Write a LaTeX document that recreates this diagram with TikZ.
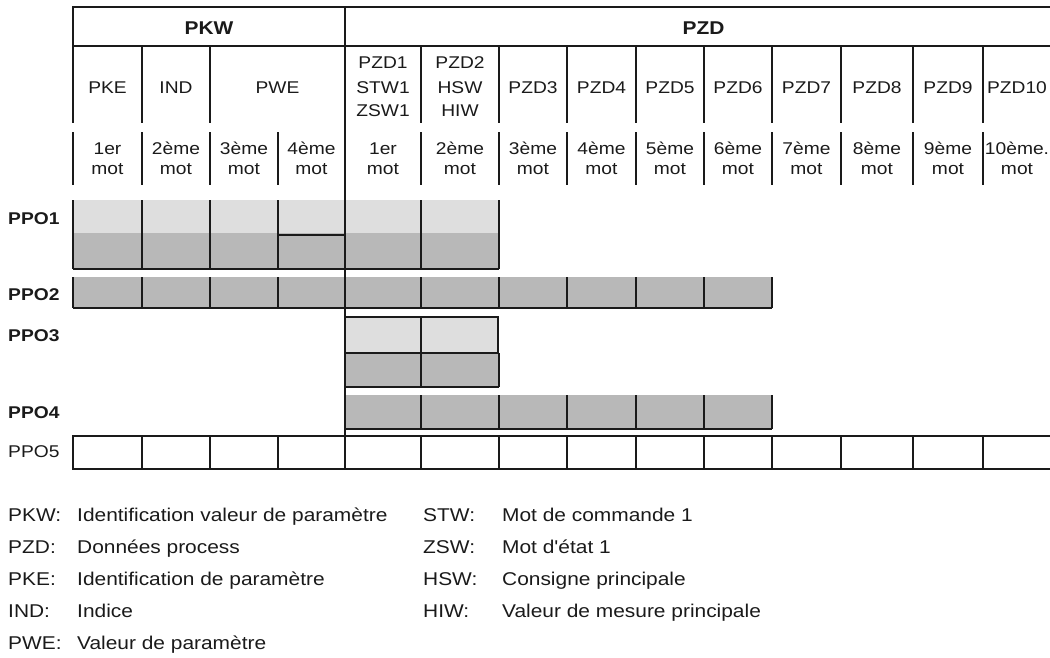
\documentclass[tikz,border=0pt]{standalone}
\usepackage{fontspec}
\setmainfont[FakeStretch=1.13]{Liberation Sans}
\newfontfamily\rawfont[FakeStretch=1.13]{Liberation Sans}
\definecolor{lightcell}{HTML}{DEDEDE}
\definecolor{darkcell}{HTML}{B8B8B8}
\definecolor{ink}{HTML}{1A1A1A}
\tikzset{
  gridline/.style={draw=ink, line width=1.4pt},
  boldline/.style={draw=ink, line width=2.8pt},
  hdr/.style={font=\fontsize{17}{20}\selectfont, anchor=base, inner sep=0pt, text=ink},
  toplbl/.style={font=\fontsize{18.5}{22}\selectfont\bfseries, anchor=base, inner sep=0pt, text=ink},
  ppolbl/.style={font=\fontsize{17}{20}\selectfont\bfseries, anchor=base west, inner sep=0pt, text=ink},
  ppoplain/.style={font=\fontsize{17}{20}\selectfont, anchor=base west, inner sep=0pt, text=ink},
  legend/.style={font=\fontsize{18.5}{22}\selectfont, anchor=base west, inner sep=0pt, text=ink}
}
\begin{document}
\begin{tikzpicture}[x=1pt,y=-1pt]
\useasboundingbox (0,0) rectangle (1050,657);
% cell fills
\fill[lightcell] (73,200) rectangle (499,233);
\fill[darkcell] (73,233) rectangle (499,269);
\fill[darkcell] (73,277) rectangle (772,308);
\fill[lightcell] (345,317) rectangle (499,353);
\fill[darkcell] (345,353) rectangle (499,387);
\fill[darkcell] (345,395) rectangle (772,429);
% top frame
\draw[boldline] (1064,7) -- (73,7) -- (73,46) -- (1064,46);
% header row verticals
\foreach \x in {73,142,210,421,499,567,636,704,772,841,913,983}
  \draw[gridline] (\x,46) -- (\x,123);
% sub header verticals
\foreach \x in {73,142,210,278,421,499,567,636,704,772,841,913,983}
  \draw[gridline] (\x,132) -- (\x,185);
% PPO1
\foreach \x in {73,142,210,278,421,499}
  \draw[gridline] (\x,200) -- (\x,269);
\draw[gridline] (73,269) -- (499,269);
\draw[boldline] (278,235) -- (345,235);
% PPO2
\foreach \x in {73,142,210,278,421,499,567,636,704,772}
  \draw[gridline] (\x,277) -- (\x,308);
\draw[gridline] (73,308) -- (772,308);
% PPO3
\draw[gridline] (421,317) -- (421,387);
\draw[gridline] (499,353) -- (499,387);
\draw[gridline] (345,387) -- (499,387);
\draw[boldline] (345,317) -- (498,317) -- (498,353) -- (345,353);
% PPO4
\foreach \x in {421,499,567,636,704,772}
  \draw[gridline] (\x,395) -- (\x,429);
\draw[gridline] (345,429) -- (772,429);
% PPO5
\draw[gridline] (1064,436) -- (73,436) -- (73,469) -- (1064,469);
\foreach \x in {142,210,278,421,499,567,636,704,772,841,913,983}
  \draw[gridline] (\x,436) -- (\x,469);
% main separator
\draw[boldline] (345,7) -- (345,469);

% top labels
\node[toplbl] (pkw) at (209,34.5) {PKW};
\node[toplbl] (pzd) at (703.5,34.5) {PZD};
% header row
\node[hdr] (hpke) at (107.5,93) {PKE};
\node[hdr] (hind) at (176,93) {IND};
\node[hdr] (hpwe) at (277.5,93) {PWE};
\node[hdr] (hpzd1a) at (383,68) {PZD1};
\node[hdr] (hpzd1b) at (383,93) {STW1};
\node[hdr] (hpzd1c) at (383,116.5) {ZSW1};
\node[hdr] (hpzd2a) at (460,68) {PZD2};
\node[hdr] (hpzd2b) at (460,93) {HSW};
\node[hdr] (hpzd2c) at (460,116.5) {HIW};
\node[hdr] (hpzd3) at (533,93) {PZD3};
\node[hdr] (hpzd4) at (601.5,93) {PZD4};
\node[hdr] (hpzd5) at (670,93) {PZD5};
\node[hdr] (hpzd6) at (738,93) {PZD6};
\node[hdr] (hpzd7) at (806.5,93) {PZD7};
\node[hdr] (hpzd8) at (877,93) {PZD8};
\node[hdr] (hpzd9) at (948,93) {PZD9};
\node[hdr] (hpzd10) at (1017,93) {PZD10};
% word row
\foreach \x/\w/\n in {107.5/1er/a,176/2ème/b,244/3ème/c,311.5/4ème/d,383/1er/e,460/2ème/f,533/3ème/g,601.5/4ème/h,670/5ème/i,738/6ème/j,806.5/7ème/k,877/8ème/l,948/9ème/m,1017/10ème./n}{
  \node[hdr] (w\n) at (\x,154) {\w};
  \node[hdr] (m\n) at (\x,174) {mot};
}
% PPO labels
\node[ppolbl] (ppo1) at (8,224) {PPO1};
\node[ppolbl] (ppo2) at (8,300) {PPO2};
\node[ppolbl] (ppo3) at (8,341) {PPO3};
\node[ppolbl] (ppo4) at (8,418) {PPO4};
\node[ppoplain] (ppo5) at (8,457) {PPO5};
% legend
\node[legend] (lk1) at (8,521.5) {PKW:};
\node[legend] (lv1) at (77,521.5) {Identification valeur de paramètre};
\node[legend] (lk2) at (8,553.5) {PZD:};
\node[legend] (lv2) at (77,553.5) {Données process};
\node[legend] (lk3) at (8,585.5) {PKE:};
\node[legend] (lv3) at (77,585.5) {Identification de paramètre};
\node[legend] (lk4) at (8,617.5) {IND:};
\node[legend] (lv4) at (77,617.5) {Indice};
\node[legend] (lk5) at (8,649.5) {PWE:};
\node[legend] (lv5) at (77,649.5) {Valeur de paramètre};
\node[legend] (rk1) at (423,521.5) {STW:};
\node[legend] (rv1) at (502,521.5) {Mot de commande 1};
\node[legend] (rk2) at (423,553.5) {ZSW:};
\node[legend] (rv2) at (502,553.5) {\rawfont Mot d'état 1};
\node[legend] (rk3) at (423,585.5) {HSW:};
\node[legend] (rv3) at (502,585.5) {Consigne principale};
\node[legend] (rk4) at (423,617.5) {HIW:};
\node[legend] (rv4) at (502,617.5) {Valeur de mesure principale};
\end{tikzpicture}
\end{document}
